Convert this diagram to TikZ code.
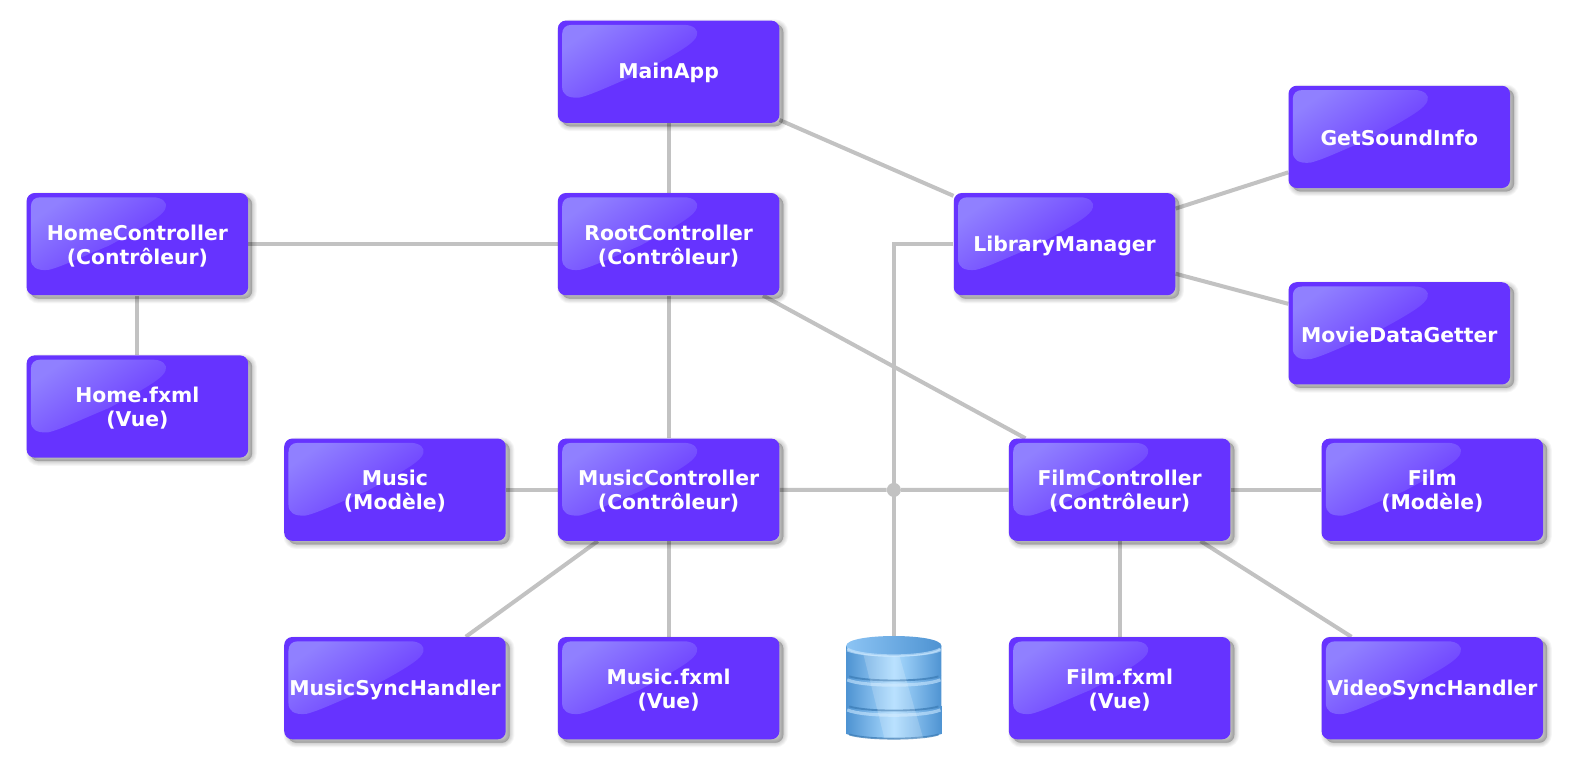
\documentclass[tikz,border=0pt]{standalone}
\usepackage{fontspec}
\setmainfont{DejaVu Sans}
\usetikzlibrary{shadows,backgrounds,calc}
\definecolor{boxfill}{HTML}{6633FF}
\definecolor{glosslight}{HTML}{9080FF}
\definecolor{linkgrey}{HTML}{C2C2C2}
\definecolor{dbdark}{HTML}{4E93D2}
\definecolor{dbmid}{HTML}{8CC4F4}
\definecolor{dblight}{HTML}{ABDBFF}
\definecolor{dbrim}{HTML}{CBE8FF}
\definecolor{dbedge}{HTML}{3F7FB8}
\tikzset{
  shadowlayer/.style={general shadow={fill=black,draw=black,line width=#1,fill opacity=.04,draw opacity=.035,shadow xshift=3pt,shadow yshift=-2.6pt}},
  softshadow/.style={shadowlayer=7pt,shadowlayer=5.6pt,shadowlayer=4.2pt,shadowlayer=2.8pt,shadowlayer=1.4pt,shadowlayer=.4pt},
  boxbase/.style={
    softshadow, fill=boxfill, rounded corners=6pt, anchor=north west,
    minimum width=165.75pt, minimum height=76.5pt, inner sep=0pt},
  classtext/.style={
    anchor=center, inner sep=0pt,
    align=center, text=white, font=\fontsize{15.25}{18}\selectfont\bfseries},
  link/.style={draw=linkgrey,line width=3pt},
  junction/.style={circle,fill=linkgrey,minimum size=10.5pt,inner sep=0pt},
  dbanchor/.style={minimum width=71pt,minimum height=76.5pt,inner sep=0pt}
}
\newcommand{\classnode}[4]{%
  \node[boxbase] (#1) at (#2,#3) {};
  \begin{scope}[shift={(#2,#3)}]
    \shade[left color=glosslight,right color=boxfill,shading angle=35]
      (4.5,14) .. controls (4.5,8) and (8,4.5) .. (14,4.5)
      -- (126,4.5) .. controls (136,4.5) and (141,10) .. (139,15)
      .. controls (137,22) and (125,30) .. (82,53)
      .. controls (55,64) and (35,74) .. (22,77)
      .. controls (10,78) and (4.5,74) .. (4.5,66) -- cycle;
  \end{scope}
  \node[classtext] (#1-text) at ($(#1.center)+(0,1.5)$) {#4};
}
\newcommand{\dbdisk}[2]{%
  \shade[left color=dbdark,right color=dbdark,middle color=dblight]
    (845,#1) -- (845,#2) .. controls (862,#2+6) and (923,#2+6) .. (940,#2) -- (940,#1) -- cycle;
  \draw[dbedge,line width=1.4pt,opacity=.8] (848,#2+.5) .. controls (865,#2+6) and (920,#2+6) .. (937,#2+.5);
  \draw[dbrim,line width=2.4pt,opacity=.6] (846,#1+4) .. controls (862,#1+11) and (923,#1+11) .. (939,#1+4);
}
\begin{document}
\begin{tikzpicture}[x=.75pt,y=-.75pt]
\useasboundingbox (0.7,0.7) rectangle (1569.1,782.9);
\classnode{main}{557}{21}{MainApp}
\classnode{root}{557}{193}{RootController\\(Contrôleur)}
\classnode{home}{27}{193}{HomeController\\(Contrôleur)}
\classnode{homef}{27}{355}{Home.fxml\\(Vue)}
\classnode{lib}{952}{193}{LibraryManager}
\classnode{sound}{1286}{86}{GetSoundInfo}
\classnode{movie}{1286}{282}{MovieDataGetter}
\classnode{music}{284}{438}{Music\\(Modèle)}
\classnode{mctl}{557}{438}{MusicController\\(Contrôleur)}
\classnode{fctl}{1007}{438}{FilmController\\(Contrôleur)}
\classnode{film}{1319}{438}{Film\\(Modèle)}
\classnode{msync}{284}{636}{MusicSyncHandler}
\classnode{mf}{557}{636}{Music.fxml\\(Vue)}
\classnode{ff}{1007}{636}{Film.fxml\\(Vue)}
\classnode{vsync}{1319}{636}{VideoSyncHandler}
\node[junction] (j) at (892.5,489.5) {};
\node[dbanchor] (db) at (892.5,687) {};
% database
\dbdisk{705}{733}
\dbdisk{675}{705}
\dbdisk{645}{675}
\fill[white,opacity=.18] (862,653) -- (898,655) -- (922,738) -- (883,737) -- cycle;
\shade[left color=dbmid,right color=dbdark]
  (845,645) .. controls (845,632) and (940,632) .. (940,645)
  .. controls (940,658) and (845,658) .. (845,645) -- cycle;
\draw[dbrim,line width=1.8pt,opacity=.6] (846,648) .. controls (862,657) and (923,657) .. (939,648);
% connectors
\begin{pgfonlayer}{background}
\fill[white] (0,0) rectangle (1572,784);
\draw[link] (main) -- (root);
\draw[link] (main) -- (lib);
\draw[link] (home) -- (root);
\draw[link] (home) -- (homef);
\draw[link] (root) -- (mctl);
\draw[link] (root) -- (fctl);
\draw[link] (lib) -- (sound);
\draw[link] (lib) -- (movie);
\draw[link] (lib.west) -| (db.north);
\draw[link] (music) -- (mctl);
\draw[link] (mctl) -- (j);
\draw[link] (j) -- (fctl);
\draw[link] (fctl) -- (film);
\draw[link] (mctl) -- (msync);
\draw[link] (mctl) -- (mf);
\draw[link] (fctl) -- (ff);
\draw[link] (fctl) -- (vsync);
\end{pgfonlayer}
\end{tikzpicture}
\end{document}
